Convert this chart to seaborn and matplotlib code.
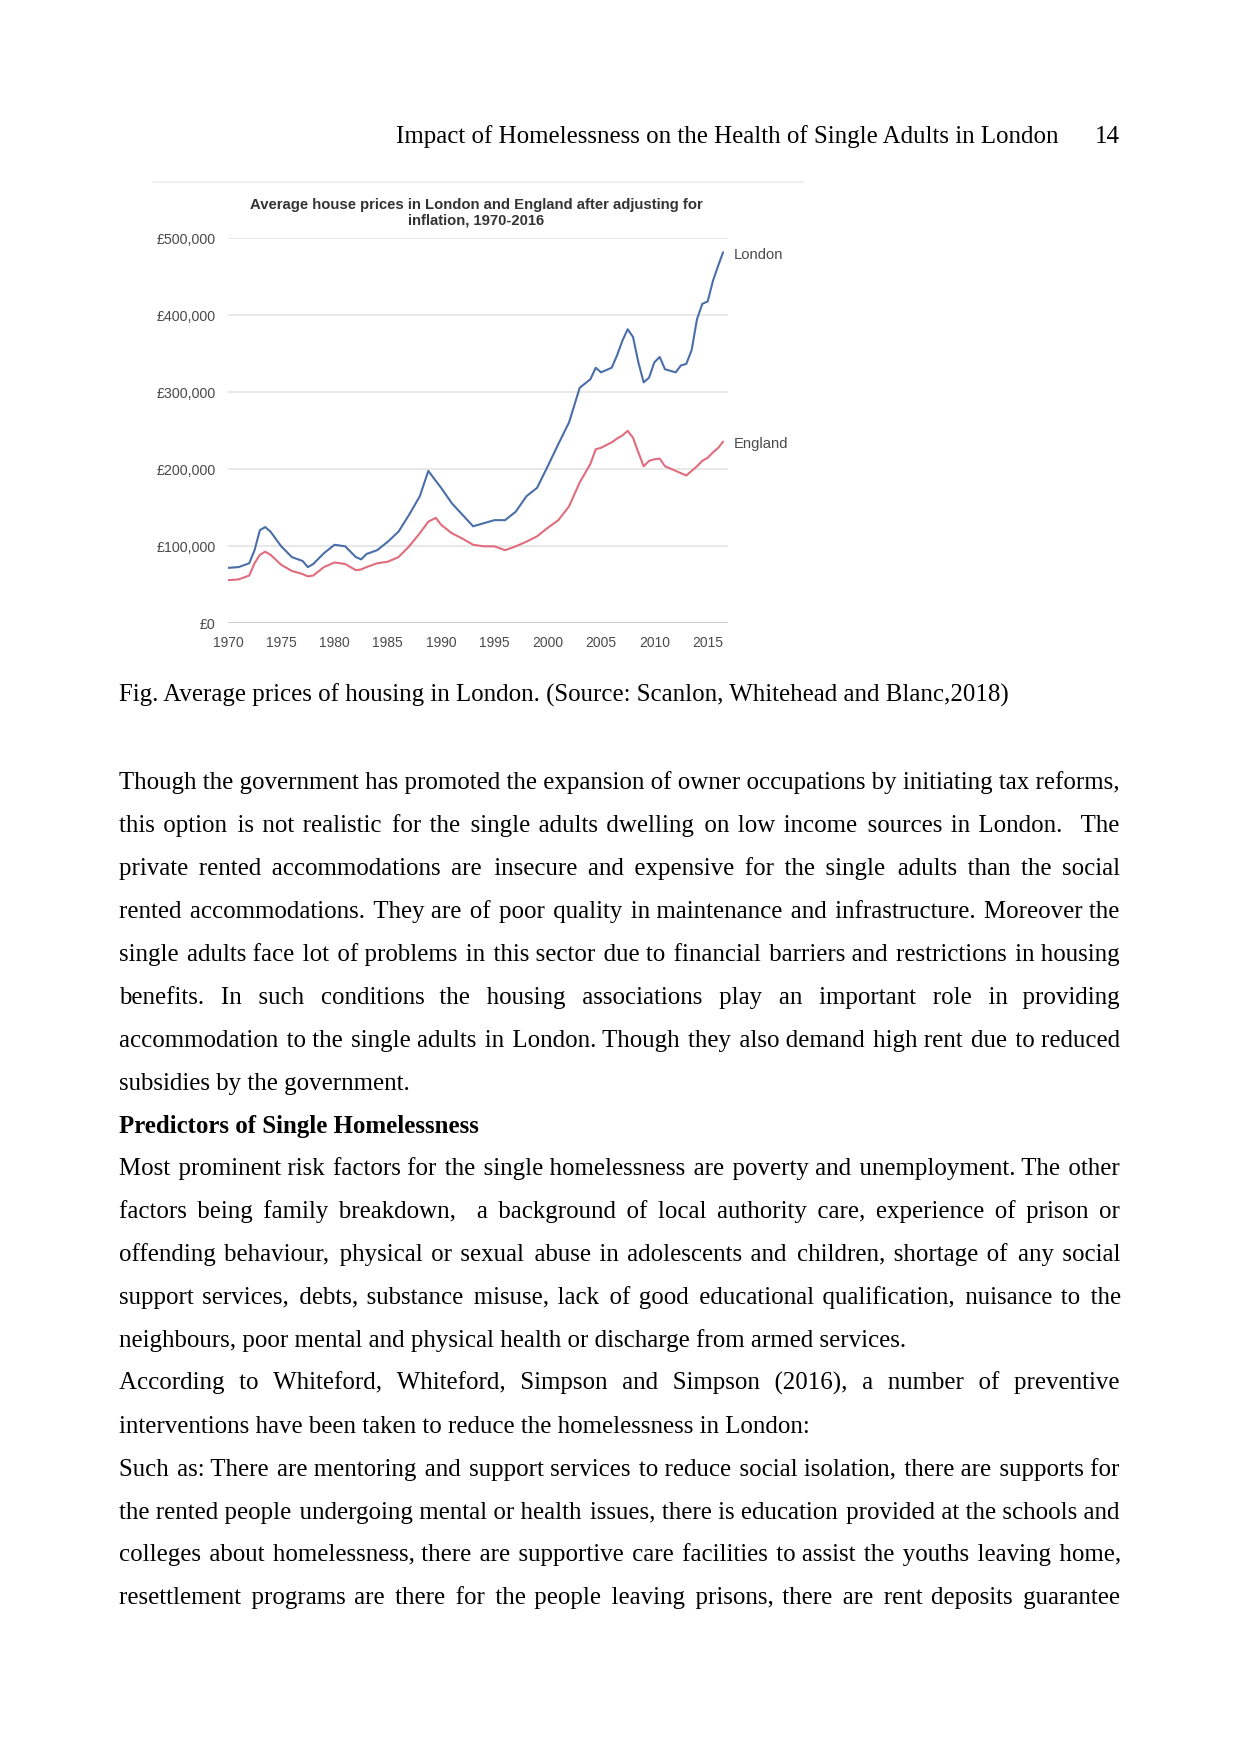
import matplotlib
matplotlib.use("Agg")
import matplotlib.pyplot as plt
from matplotlib import font_manager
from matplotlib.lines import Line2D
import seaborn as sns
import pandas as pd

years = [1970, 1971, 1972, 1972.5, 1973, 1973.5, 1974, 1975, 1976, 1977, 1977.5,
         1978, 1979, 1980, 1981, 1982, 1982.5, 1983, 1984, 1985, 1986, 1987,
         1988, 1988.8, 1989.5, 1990, 1991, 1992, 1993, 1994, 1995, 1996, 1997,
         1998, 1999, 2000, 2001, 2002, 2003, 2004, 2004.5, 2005, 2006, 2006.5,
         2007, 2007.5, 2008, 2008.5, 2009, 2009.5, 2010, 2010.5, 2011, 2012,
         2012.5, 2013, 2013.5, 2014, 2014.5, 2015, 2015.5, 2016, 2016.45]
london = [72, 73, 78, 95, 121, 125, 119, 100, 86, 81, 73,
          77, 91, 102, 100, 86, 83, 90, 95, 106, 119, 141,
          165, 198, 185, 176, 156, 141, 126, 130, 134, 134, 145,
          165, 176, 204, 233, 261, 306, 317, 332, 326, 332, 348,
          367, 382, 372, 339, 313, 319, 339, 346, 330, 326,
          335, 337, 355, 395, 415, 418, 445, 465, 482]
england = [56, 57, 62, 78, 89, 93, 89, 76, 68, 64, 61,
           62, 73, 79, 77, 69, 70, 73, 78, 80, 86, 100,
           117, 132, 137, 128, 117, 110, 102, 100, 100, 95, 100,
           106, 113, 124, 134, 152, 183, 207, 226, 228, 235, 240,
           244, 250, 241, 222, 204, 211, 213, 214, 204, 198,
           195, 192, 198, 204, 211, 215, 222, 228, 236]
london = [v * 1000 for v in london]
england = [v * 1000 for v in england]

y_ticks = [0, 100000, 200000, 300000, 400000, 500000]
y_tick_labels = ['£0', '£100,000', '£200,000', '£300,000', '£400,000', '£500,000']
x_ticks = [1970, 1975, 1980, 1985, 1990, 1995, 2000, 2005, 2010, 2015]

chart_title = "Average house prices in London and England after adjusting for\ninflation, 1970-2016"
header = "Impact of Homelessness on the Health of Single Adults in London"
page_no = "14"
caption = "Fig. Average prices of housing in London. (Source: Scanlon, Whitehead and Blanc,2018)"

# (text, mode) mode: J = justified, L = left, B = bold heading
body_lines = [
    ("Though the government has promoted the expansion of owner occupations by initiating tax reforms,", "J"),
    ("this option is not realistic for the single adults dwelling on low income sources in London.  The", "J"),
    ("private rented accommodations are insecure and expensive for the single adults than the social", "J"),
    ("rented accommodations. They are of poor quality in maintenance and infrastructure. Moreover the", "J"),
    ("single adults face lot of problems in this sector due to financial barriers and restrictions in housing", "J"),
    ("benefits. In such conditions the housing associations play an important role in providing", "J"),
    ("accommodation to the single adults in London. Though they also demand high rent due to reduced", "J"),
    ("subsidies by the government.", "L"),
    ("Predictors of Single Homelessness", "B"),
    ("Most prominent risk factors for the single homelessness are poverty and unemployment. The other", "J"),
    ("factors being family breakdown,  a background of local authority care, experience of prison or", "J"),
    ("offending behaviour, physical or sexual abuse in adolescents and children, shortage of any social", "J"),
    ("support services, debts, substance misuse, lack of good educational qualification, nuisance to the", "J"),
    ("neighbours, poor mental and physical health or discharge from armed services.", "L"),
    ("According to Whiteford, Whiteford, Simpson and Simpson (2016), a number of preventive", "J"),
    ("interventions have been taken to reduce the homelessness in London:", "L"),
    ("Such as: There are mentoring and support services to reduce social isolation, there are supports for", "J"),
    ("the rented people undergoing mental or health issues, there is education provided at the schools and", "J"),
    ("colleges about homelessness, there are supportive care facilities to assist the youths leaving home,", "J"),
    ("resettlement programs are there for the people leaving prisons, there are rent deposits guarantee", "J"),
]

sns.set_theme(style="white")
names = {f.name for f in font_manager.fontManager.ttflist}
chart_font = "Liberation Sans Narrow" if "Liberation Sans Narrow" in names else "Liberation Sans"
plt.rcParams['font.family'] = ['Liberation Serif', 'DejaVu Serif', 'DejaVu Sans']

W, H = 1241, 1754
fig = plt.figure(figsize=(W / 100, H / 100), dpi=100)
fig.patch.set_facecolor('white')

# ---- chart ----
ax = fig.add_axes([227.9 / W, 1 - 623.3 / H, 500 / W, 384.9 / H])
n = len(years)
df = pd.DataFrame({'year': years * 2,
                   'price': london + england,
                   'area': ['London'] * n + ['England'] * n})
colors = {'London': '#4a6ea8', 'England': '#e06c7e'}
sns.lineplot(data=df, x='year', y='price', hue='area', palette=colors,
             estimator=None, lw=1.5, legend=False, ax=ax)

ax.set_xlim(1970, 2016.9)
ax.set_ylim(0, 500000)
ax.set_yticks(y_ticks)
ax.set_yticklabels(y_tick_labels, family=chart_font)
ax.set_xticks(x_ticks)
ax.set_xticklabels([str(x) for x in x_ticks], family=chart_font)
ax.set_xlabel('')
ax.set_ylabel('')
for s in ax.spines.values():
    s.set_visible(False)
ax.grid(axis='y', color='#e4e4e4', lw=1.2)
ax.grid(axis='x', visible=False)
ax.axhline(0, color='#cccccc', lw=1.2, zorder=1)
ax.tick_params(axis='x', length=3, width=1, color='#cccccc', direction='inout',
               pad=7.5, labelsize=10, labelcolor='#4a4a4a')
ax.tick_params(axis='y', length=0, pad=9, labelsize=10.3, labelcolor='#4a4a4a')
ax.set_facecolor('white')

ax.annotate('London', xy=(years[-1], london[-1]), xytext=(8, -2), textcoords='offset points',
            va='center', ha='left', fontsize=10.6, color='#4a4a4a', family=chart_font)
ax.annotate('England', xy=(years[-1], england[-1]), xytext=(8, -2), textcoords='offset points',
            va='center', ha='left', fontsize=10.6, color='#4a4a4a', family=chart_font)

fig.text(476 / W, 1 - 212.7 / H, chart_title, ha='center', va='center', fontsize=10.7,
         weight='bold', color='#333333', family=chart_font, linespacing=1.15)
fig.add_artist(Line2D([153 / W, 803 / W], [1 - 182 / H] * 2, color='#efefef', lw=1.5))

# ---- page text ----
FS = 17.9
left, right = 118.6, 1120.0
renderer = fig.canvas.get_renderer()

fig.text(1058.6 / W, 1 - 142.7 / H, header, ha='right', va='baseline', fontsize=FS, color='black')
fig.text(right / W, 1 - 142.7 / H, page_no, ha='right', va='baseline', fontsize=FS, color='black')
fig.text(left / W, 1 - 701.7 / H, caption, ha='left', va='baseline', fontsize=FS, color='black')

probe = fig.text(0, 0, '', fontsize=FS)


def width_of(s):
    probe.set_text(s)
    return probe.get_window_extent(renderer).width


space_w = width_of('a a') - width_of('aa')
hair_w = width_of('a\u200aa') - width_of('aa')
if hair_w < 0.5:
    hair_w = width_of('a\u2009a') - width_of('aa')
    hair = '\u2009'
else:
    hair = '\u200a'


def justified(text):
    tokens = text.split(' ')
    words, weights = [], []
    sep = 0
    for tok in tokens:
        if tok == '':
            sep += 1
            continue
        if words:
            weights.append(sep + 1)
        words.append(tok)
        sep = 0
    widths = [width_of(w) for w in words]
    unit = (right - left - sum(widths)) / sum(weights)
    out = words[0]
    target = widths[0]
    for i in range(1, len(words)):
        target += weights[i - 1] * unit
        need = target - width_of(out)
        k = int(need // space_w)
        rem = need - k * space_w
        m = int(round(rem / hair_w))
        if k < 0:
            k, m = 0, 0
        out += ' ' * k + hair * m + words[i]
        target += widths[i]
    return out


for i, (line, mode) in enumerate(body_lines):
    y = 1 - (789.3 + 42.9 * i) / H
    if mode == 'J':
        fig.text(left / W, y, justified(line), fontsize=FS, va='baseline', ha='left', color='black')
    else:
        fig.text(left / W, y, line, fontsize=FS, va='baseline', ha='left', color='black',
                 weight='bold' if mode == 'B' else 'normal')

probe.set_text('')
fig.savefig('out.png', dpi=100, facecolor='white')
